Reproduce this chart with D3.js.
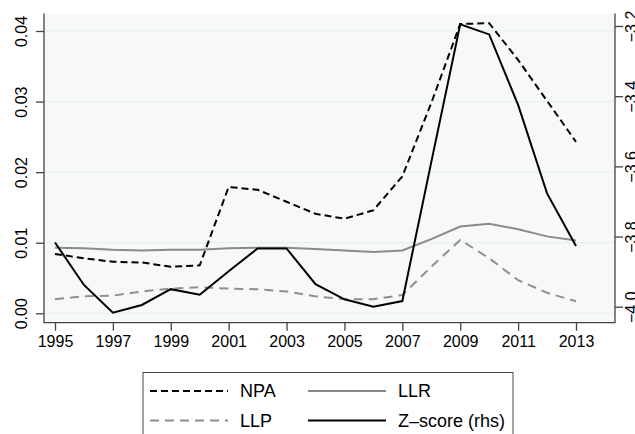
<!DOCTYPE html>
<html>
<head>
<meta charset="utf-8">
<script src="https://cdn.jsdelivr.net/npm/d3@7"></script>
<style>
  body { margin: 0; background: #fff; }
  svg { display: block; font-family: "Liberation Sans", Arial, Helvetica, sans-serif; }
</style>
</head>
<body>
<script>
// data
var years = [1995, 1996, 1997, 1998, 1999, 2000, 2001, 2002, 2003, 2004, 2005, 2006, 2007, 2008, 2009, 2010, 2011, 2012, 2013];
var npa = [0.0084, 0.0078, 0.0073, 0.0072, 0.0066, 0.0068, 0.0179, 0.0175, 0.0158, 0.0141, 0.0134, 0.0146, 0.0194, 0.0298, 0.0410, 0.0411, 0.0359, 0.0301, 0.0243];
var llr = [0.0093, 0.0092, 0.0090, 0.0089, 0.0090, 0.0090, 0.0092, 0.0093, 0.0093, 0.0091, 0.0089, 0.0087, 0.0089, 0.0105, 0.0123, 0.0127, 0.0119, 0.0109, 0.0103];
var llp = [0.0020, 0.0024, 0.0025, 0.0031, 0.0035, 0.0037, 0.0035, 0.0034, 0.0031, 0.0024, 0.0020, 0.0020, 0.0026, 0.0066, 0.0104, 0.0078, 0.0047, 0.0029, 0.0017];
var zscore = [-3.817, -3.938, -4.017, -3.995, -3.950, -3.966, -3.899, -3.834, -3.834, -3.936, -3.979, -4.000, -3.984, -3.588, -3.195, -3.224, -3.425, -3.677, -3.827];
var leftTicks = [0, 0.01, 0.02, 0.03, 0.04];
var rightTicks = [-4.0, -3.8, -3.6, -3.4, -3.2];
var xTicks = [1995, 1997, 1999, 2001, 2003, 2005, 2007, 2009, 2011, 2013];

var W = 635, H = 434;
var plotL = 44, plotR = 615, plotT = 13.5, plotB = 322.7;

var x = d3.scaleLinear().domain([1995, 2013]).range([55, 576]);
var yL = d3.scaleLinear().domain([0, 0.04]).range([313.3, 31]);
var yR = d3.scaleLinear().domain([-4.0, -3.2]).range([306.7, 26]);

var svg = d3.select("body").append("svg")
    .attr("width", W)
    .attr("height", H);

// plot region
svg.append("rect")
    .attr("x", plotL).attr("y", plotT)
    .attr("width", plotR - plotL).attr("height", plotB - plotT)
    .attr("fill", "#f7f9f9");

svg.selectAll("line.grid")
    .data(leftTicks)
    .enter().append("line")
    .attr("class", "grid")
    .attr("x1", plotL).attr("x2", plotR)
    .attr("y1", function (d) { return yL(d); })
    .attr("y2", function (d) { return yL(d); })
    .attr("stroke", "#e4edf0")
    .attr("stroke-width", 1);

// series
var series = [
    { name: "LLR", values: llr, scale: yL, color: "#8a8a8a", dash: null },
    { name: "LLP", values: llp, scale: yL, color: "#8f8f8f", dash: "9,6" },
    { name: "NPA", values: npa, scale: yL, color: "#000", dash: "7,4" },
    { name: "Z\u2013score (rhs)", values: zscore, scale: yR, color: "#000", dash: null }
];

series.forEach(function (s) {
    var line = d3.line()
        .x(function (d, i) { return x(years[i]); })
        .y(function (d) { return s.scale(d); });
    svg.append("path")
        .datum(s.values)
        .attr("d", line)
        .attr("fill", "none")
        .attr("stroke", s.color)
        .attr("stroke-width", 2)
        .attr("stroke-dasharray", s.dash)
        .attr("stroke-linejoin", "miter");
});

// frame: left, bottom, right
var frameColor = "#444";
svg.append("path")
    .attr("d", "M" + plotL + "," + plotT + "V" + plotB + "H" + plotR + "V" + plotT)
    .attr("fill", "none")
    .attr("stroke", frameColor)
    .attr("stroke-width", 1.3);

// axes
var left = svg.append("g")
    .attr("transform", "translate(" + plotL + ",0)")
    .call(d3.axisLeft(yL).tickValues(leftTicks).tickFormat(d3.format(".2f")).tickSize(8).tickSizeOuter(0));
left.selectAll("text")
    .attr("x", null).attr("dy", null)
    .attr("text-anchor", "middle")
    .attr("transform", "translate(-17,0) rotate(-90)");

var right = svg.append("g")
    .attr("transform", "translate(" + plotR + ",0)")
    .call(d3.axisRight(yR).tickValues(rightTicks).tickFormat(d3.format(".1f")).tickSize(8).tickSizeOuter(0));
right.selectAll("text")
    .attr("x", null).attr("dy", null)
    .attr("text-anchor", "middle")
    .attr("transform", "translate(21.5,0) rotate(-90)");

var bottom = svg.append("g")
    .attr("transform", "translate(0," + plotB + ")")
    .call(d3.axisBottom(x).tickValues(xTicks).tickFormat(d3.format("d")).tickSize(8).tickSizeOuter(0));
bottom.selectAll("text")
    .attr("y", 24.3).attr("dy", null);

[left, right, bottom].forEach(function (g) {
    g.select(".domain").remove();
    g.selectAll("line").attr("stroke", frameColor).attr("stroke-width", 1.3);
    g.selectAll("text").attr("font-size", 16).attr("fill", "#000")
        .attr("font-family", "'Liberation Sans', Arial, sans-serif");
});

// legend
var legendItems = [
    { s: series[2], col: 0, row: 0 },
    { s: series[0], col: 1, row: 0 },
    { s: series[1], col: 0, row: 1 },
    { s: series[3], col: 1, row: 1 }
];
var legX = 143, legY = 372.5, legW = 370;
svg.append("rect")
    .attr("x", legX).attr("y", legY)
    .attr("width", legW).attr("height", 80)
    .attr("fill", "#fff")
    .attr("stroke", "#444")
    .attr("stroke-width", 1);

var colX = [150, 308], rowY = [391, 420.5];
var items = svg.selectAll("g.leg")
    .data(legendItems)
    .enter().append("g")
    .attr("class", "leg")
    .attr("transform", function (d) { return "translate(" + colX[d.col] + "," + rowY[d.row] + ")"; });
items.append("line")
    .attr("x1", 0).attr("x2", 78)
    .attr("y1", 0).attr("y2", 0)
    .attr("stroke", function (d) { return d.s.color; })
    .attr("stroke-width", 2)
    .attr("stroke-dasharray", function (d) { return d.s.dash; });
items.append("text")
    .attr("x", 90)
    .attr("y", 6.3)
    .attr("font-size", 18)
    .text(function (d) { return d.s.name; });
</script>
</body>
</html>
